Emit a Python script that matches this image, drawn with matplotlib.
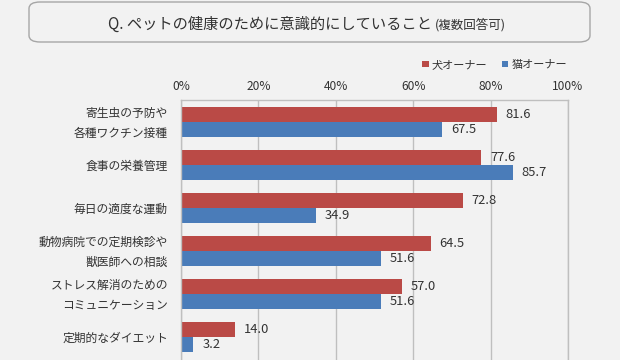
import matplotlib
matplotlib.use('Agg')
import matplotlib.pyplot as plt
import matplotlib.transforms as mtransforms
from matplotlib.patches import FancyBboxPatch
import numpy as np

plt.rcParams['font.family'] = ['Noto Sans CJK JP', 'DejaVu Sans']

# Data
categories = [
    '寄生虫の予防や\n各種ワクチン接種',
    '食事の栄養管理',
    '毎日の適度な運動',
    '動物病院での定期検診や\n獣医師への相談',
    'ストレス解消のための\nコミュニケーション',
    '定期的なダイエット',
]
dog_owner = [81.6, 77.6, 72.8, 64.5, 57.0, 14.0]
cat_owner = [67.5, 85.7, 34.9, 51.6, 51.6, 3.2]
series_names = ['犬オーナー', '猫オーナー']
x_ticks = [0, 20, 40, 60, 80, 100]
title = 'Q. ペットの健康のために意識的にしていること'
title_note = '(複数回答可)'

RED = '#BA4A46'
BLUE = '#4A7CB9'
BG = '#F2F2F2'
TXT = '#333333'

W, H = 620, 360
fig = plt.figure(figsize=(W / 100, H / 100), dpi=100, facecolor=BG)

# Title box
box = FancyBboxPatch((29 / W, 1 - 42 / H), (590 - 29) / W, 40 / H,
                     boxstyle='round,pad=0,rounding_size=0.018',
                     transform=fig.transFigure, facecolor=BG,
                     edgecolor='#a6a6a6', linewidth=1.0)
fig.patches.append(box)
fig.text(108 / W, 1 - 24 / H, title, fontsize=11, color=TXT,
         ha='left', va='center')
fig.text(435 / W, 1 - 25 / H, title_note, fontsize=9, color=TXT,
         ha='left', va='center')

ax = fig.add_axes([181 / W, 0, (568 - 181) / W, 1 - 100 / H])
ax.set_facecolor(BG)

y = np.arange(len(categories))
h = 0.345
b1 = ax.barh(y - h / 2, dog_owner, height=h, color=RED, label=series_names[0])
b2 = ax.barh(y + h / 2, cat_owner, height=h, color=BLUE, label=series_names[1])

for bars, vals in ((b1, dog_owner), (b2, cat_owner)):
    for bar, v in zip(bars, vals):
        ax.annotate(f'{v:.1f}', (v, bar.get_y() + bar.get_height() / 2),
                    xytext=(9, 0), textcoords='offset pixels',
                    ha='left', va='center', fontsize=9.3, color=TXT)

# Category labels (two-line ones nudged up a little)
lab_tr = mtransforms.blended_transform_factory(ax.transAxes, ax.transData)
for i, cat in enumerate(categories):
    tr = lab_tr
    if '\n' in cat:
        tr = lab_tr + mtransforms.ScaledTranslation(0, 4 / 100, fig.dpi_scale_trans)
    ax.text(-13 / (568 - 181), i, cat, transform=tr, ha='right',
            va='center_baseline', fontsize=8.5, color=TXT, linespacing=1.75,
            multialignment='right')

ax.set_xlim(0, 100)
ax.set_ylim(5.535, -0.512)
ax.set_xticks(x_ticks)
ax.set_xticklabels([f'{v}%' for v in x_ticks])
ax.xaxis.tick_top()
ax.tick_params(axis='x', length=0, pad=5, labelsize=8.6, labelcolor=TXT)
ax.set_yticks([])

ax.grid(axis='x', color='#bfbfbf', linewidth=1.0)
ax.set_axisbelow(True)
for side in ('top', 'right', 'left'):
    ax.spines[side].set_color('#bfbfbf')
    ax.spines[side].set_linewidth(1.0)
ax.spines['bottom'].set_visible(False)

fig.legend(handles=[b1, b2], loc='center right',
           bbox_to_anchor=(567 / W, 1 - 65 / H), ncol=2, frameon=False,
           fontsize=8.0, handlelength=0.55, handleheight=0.55,
           handletextpad=0.3, columnspacing=1.3, borderaxespad=0,
           borderpad=0, labelcolor=TXT)

fig.savefig('out.png', dpi=100, facecolor=BG)
